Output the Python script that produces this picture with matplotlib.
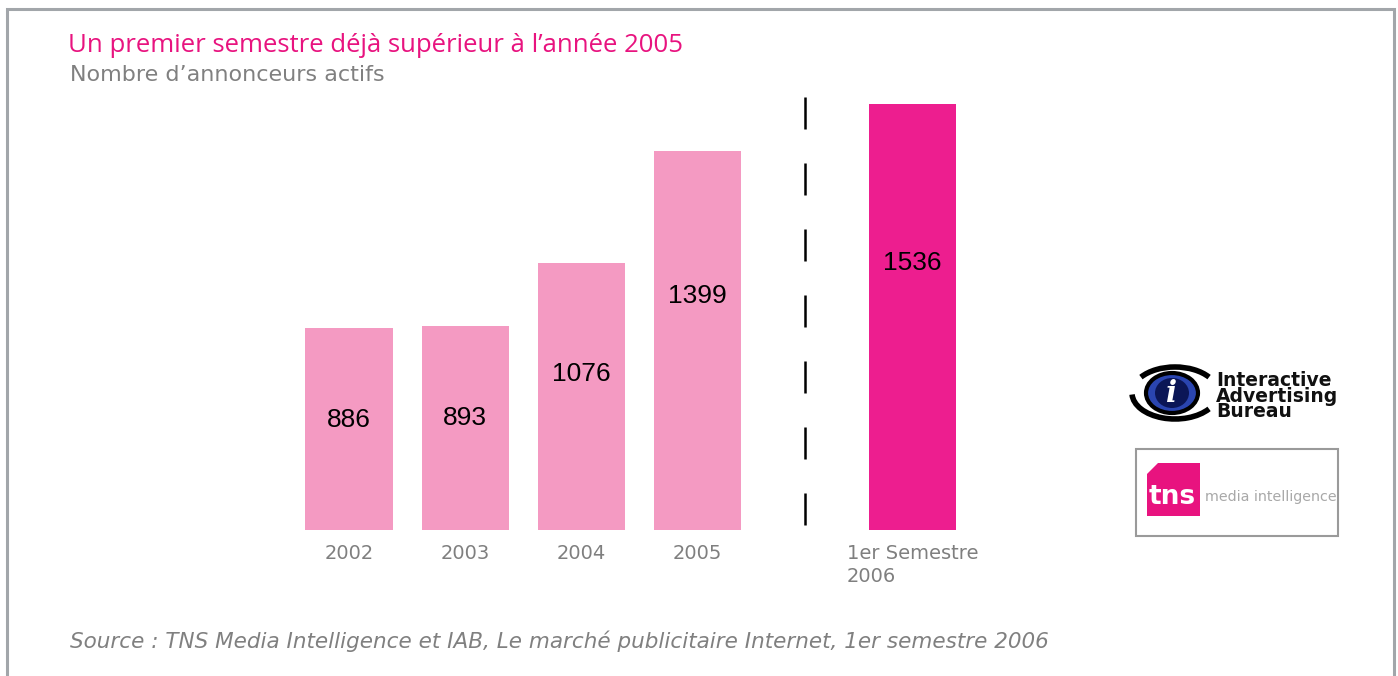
import matplotlib
matplotlib.use("Agg")
import matplotlib.pyplot as plt
from matplotlib.patches import Rectangle, Ellipse, Arc, Polygon

# data
categories = ["2002", "2003", "2004", "2005", "1er Semestre\n2006"]
annonceurs = [886, 893, 1076, 1399, 1536]
bar_colors = ["#F49AC2", "#F49AC2", "#F49AC2", "#F49AC2", "#ED1E8F"]

W, H = 1398, 676
fig = plt.figure(figsize=(W / 100, H / 100), dpi=100)

# full-figure overlay in pixel coordinates for frame, texts and logos
bg = fig.add_axes([0, 0, 1, 1])
bg.set_xlim(0, W)
bg.set_ylim(H, 0)
bg.axis("off")

# frame (open at the bottom)
bg.plot([7, 7, 1394, 1394], [H + 5, 9, 9, H + 5], color="#A2A6AA", lw=2.2, solid_joinstyle="miter")

# chart axes
px = lambda x: x / W
ax = fig.add_axes([px(250), 1 - 530 / H, px(800), 450 / H])
ax.set_zorder(2)
ax.patch.set_alpha(0)
positions = [0, 1, 2, 3, 4.855]
ax.bar(positions, annonceurs, width=0.75, color=bar_colors, zorder=2)
ax.set_xlim(-0.853, 6.04)
ax.set_ylim(300, 1606)
for s in ax.spines.values():
    s.set_visible(False)
ax.set_yticks([])
ax.set_xticks(positions)
ax.set_xticklabels(categories, color="#7F7F7F", fontsize=14,
                   family="DejaVu Sans", multialignment="left", va="top",
                   linespacing=1.3)
ax.tick_params(axis="x", length=0, pad=10)

for x, v in zip(positions, annonceurs):
    ax.text(x, v * 0.7, str(v), ha="center", va="center", fontsize=19,
            family="Liberation Sans", color="black")

# dashed separator between years and the half-year
ax.plot([3.93, 3.93], [0.011, 0.967], transform=ax.get_xaxis_transform(),
        color="black", lw=1.8, dashes=(12.8, 13.6), zorder=1)

# titles
bg.text(68, 46, "Un premier semestre déjà supérieur à l\u2019année 2005",
        color="#E8137F", fontsize=18.5, family="Open Sans", va="center", ha="left")
bg.text(70, 75, "Nombre d\u2019annonceurs actifs", color="#808080",
        fontsize=16, family="DejaVu Sans", va="center", ha="left")
bg.text(70, 641, "Source : TNS Media Intelligence et IAB, Le marché publicitaire Internet, 1er semestre 2006",
        color="#808080", fontsize=15.5, family="DejaVu Sans", style="italic",
        va="center", ha="left")

# IAB logo
bg.add_patch(Arc((1175, 393), 86, 52, theta1=25, theta2=178, color="black", lw=4))
bg.add_patch(Arc((1175, 393), 86, 52, theta1=205, theta2=335, color="black", lw=4))
bg.add_patch(Ellipse((1172, 393), 52, 40, facecolor="#2A45B0", edgecolor="black", lw=3))
bg.add_patch(Ellipse((1172, 393), 34, 30, facecolor="#0B1656", edgecolor="none"))
bg.text(1172, 394, "i", color="white", fontsize=21, family="DejaVu Serif",
        style="italic", weight="bold", ha="center", va="center")
bg.text(1216, 396, "Interactive\nAdvertising\nBureau", color="#111111", fontsize=13.5,
        family="DejaVu Sans", weight="bold", ha="left", va="center", linespacing=0.78)

# TNS logo
bg.add_patch(Rectangle((1136, 449), 202, 87, facecolor="white", edgecolor="#9A9A9A", lw=1.5))
bg.add_patch(Polygon([(1158, 463), (1200, 463), (1200, 516), (1147, 516), (1147, 474)],
                     closed=True, facecolor="#E8137F", edgecolor="none"))
bg.text(1149, 497, "tns", color="white", fontsize=19, family="DejaVu Sans",
        weight="bold", ha="left", va="center")
bg.text(1205, 497, "media intelligence", color="#A8A8A8", fontsize=10.3,
        family="DejaVu Sans", ha="left", va="center")

fig.savefig("out.png", dpi=100, facecolor="white")
